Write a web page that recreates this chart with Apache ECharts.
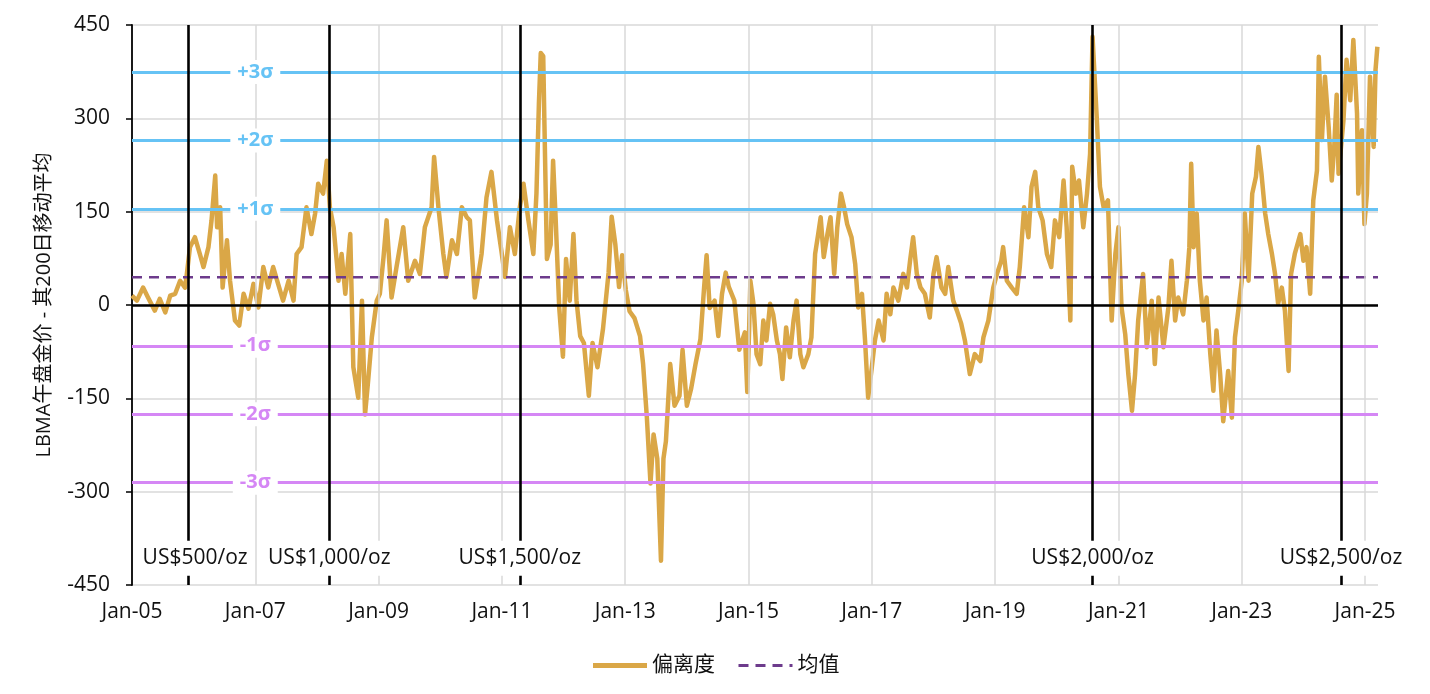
<!DOCTYPE html>
<html>
<head>
<meta charset="utf-8">
<script src="https://cdn.jsdelivr.net/npm/echarts/dist/echarts.min.js"></script>
<style>
html, body { margin: 0; padding: 0; background: #fff; }
#chart { width: 1430px; height: 694px; }
</style>
</head>
<body>
<div id="chart"></div>
<script>
var fontFamily = "'Open Sans', 'Noto Sans CJK SC', sans-serif";

// x values are decimal years (2005.50 ~ start of Jul 2005)
var years = [
    2005.00, 2005.08, 2005.18, 2005.26, 2005.37, 2005.45, 2005.54, 2005.62, 2005.70, 2005.78,
    2005.86, 2005.89, 2005.94, 2006.02, 2006.10, 2006.16, 2006.24, 2006.29, 2006.35, 2006.38,
    2006.43, 2006.47, 2006.54, 2006.59, 2006.67, 2006.74, 2006.81, 2006.89, 2006.97, 2007.05,
    2007.13, 2007.21, 2007.29, 2007.37, 2007.45, 2007.54, 2007.62, 2007.67, 2007.75, 2007.83,
    2007.91, 2007.97, 2008.02, 2008.10, 2008.16, 2008.21, 2008.27, 2008.35, 2008.40, 2008.46,
    2008.54, 2008.59, 2008.67, 2008.73, 2008.78, 2008.83, 2008.89, 2008.97, 2009.02, 2009.08,
    2009.13, 2009.21, 2009.29, 2009.40, 2009.48, 2009.59, 2009.67, 2009.75, 2009.86, 2009.90,
    2009.97, 2010.05, 2010.10, 2010.19, 2010.27, 2010.35, 2010.43, 2010.48, 2010.56, 2010.67,
    2010.75, 2010.83, 2010.92, 2010.99, 2011.05, 2011.13, 2011.21, 2011.29, 2011.35, 2011.43,
    2011.51, 2011.56, 2011.60, 2011.63, 2011.67, 2011.69, 2011.73, 2011.79, 2011.83, 2011.87,
    2011.93, 2011.99, 2012.04, 2012.10, 2012.16, 2012.21, 2012.27, 2012.33, 2012.41, 2012.47,
    2012.55, 2012.64, 2012.73, 2012.78, 2012.84, 2012.90, 2012.95, 2013.01, 2013.07, 2013.15,
    2013.24, 2013.29, 2013.35, 2013.41, 2013.46, 2013.52, 2013.58, 2013.62, 2013.66, 2013.73,
    2013.80, 2013.88, 2013.93, 2014.00, 2014.07, 2014.14, 2014.22, 2014.28, 2014.32, 2014.37,
    2014.45, 2014.51, 2014.57, 2014.63, 2014.68, 2014.77, 2014.85, 2014.94, 2014.98, 2015.01,
    2015.03, 2015.08, 2015.13, 2015.19, 2015.24, 2015.29, 2015.35, 2015.40, 2015.46, 2015.51,
    2015.55, 2015.61, 2015.67, 2015.73, 2015.78, 2015.84, 2015.89, 2015.97, 2016.02, 2016.08,
    2016.13, 2016.17, 2016.22, 2016.28, 2016.33, 2016.39, 2016.44, 2016.50, 2016.55, 2016.60,
    2016.67, 2016.73, 2016.78, 2016.84, 2016.89, 2016.94, 2017.00, 2017.05, 2017.11, 2017.19,
    2017.24, 2017.30, 2017.35, 2017.43, 2017.51, 2017.57, 2017.62, 2017.67, 2017.73, 2017.79,
    2017.86, 2017.94, 2018.00, 2018.05, 2018.13, 2018.19, 2018.24, 2018.32, 2018.38, 2018.45,
    2018.51, 2018.59, 2018.67, 2018.76, 2018.81, 2018.89, 2018.97, 2019.03, 2019.10, 2019.13,
    2019.19, 2019.27, 2019.35, 2019.40, 2019.47, 2019.54, 2019.59, 2019.65, 2019.70, 2019.77,
    2019.84, 2019.91, 2019.97, 2020.04, 2020.11, 2020.16, 2020.22, 2020.25, 2020.31, 2020.36,
    2020.43, 2020.49, 2020.54, 2020.58, 2020.65, 2020.70, 2020.76, 2020.83, 2020.89, 2020.95,
    2021.00, 2021.05, 2021.11, 2021.16, 2021.22, 2021.27, 2021.32, 2021.40, 2021.46, 2021.54,
    2021.59, 2021.65, 2021.73, 2021.81, 2021.86, 2021.92, 2021.97, 2022.05, 2022.11, 2022.15,
    2022.18, 2022.22, 2022.27, 2022.32, 2022.38, 2022.43, 2022.49, 2022.54, 2022.59, 2022.65,
    2022.70, 2022.78, 2022.84, 2022.89, 2022.95, 2023.00, 2023.05, 2023.11, 2023.17, 2023.23,
    2023.27, 2023.32, 2023.38, 2023.43, 2023.49, 2023.54, 2023.59, 2023.65, 2023.70, 2023.76,
    2023.80, 2023.86, 2023.95, 2024.00, 2024.05, 2024.11, 2024.16, 2024.22, 2024.25, 2024.30,
    2024.35, 2024.41, 2024.46, 2024.50, 2024.54, 2024.57, 2024.61, 2024.65, 2024.70, 2024.76,
    2024.81, 2024.87, 2024.89, 2024.95, 2024.99, 2025.03, 2025.08, 2025.14, 2025.17, 2025.20
];

// LBMA PM price minus its 200-day moving average (US$/oz)
var deviation = [
    15, 7, 28, 12, -9, 10, -12, 15, 18, 39,
    28, 50, 93, 109, 82, 61, 93, 136, 208, 125,
    157, 28, 104, 39, -25, -33, 18, -6, 34, -4,
    61, 28, 61, 34, 7, 39, 7, 82, 93, 157,
    114, 147, 195, 179, 232, 157, 125, 39, 82, 18,
    114, -100, -149, 7, -176, -122, -52, 7, 18, 77,
    136, 12, 61, 125, 39, 71, 50, 125, 157, 238,
    157, 82, 45, 104, 82, 157, 141, 136, 12, 82,
    173, 214, 136, 88, 45, 125, 82, 157, 195, 136,
    82, 179, 324, 405, 400, 289, 74, 97, 232, 142,
    -5, -83, 74, 7, 114, 7, -50, -61, -146, -61,
    -100, -38, 52, 142, 97, 29, 80, 24, -10, -21,
    -50, -95, -179, -287, -208, -247, -411, -247, -219, -95,
    -162, -146, -72, -162, -134, -95, -55, 29, 80, -5,
    7, -50, 18, 52, 29, 7, -72, -44, -140, -38,
    39, 2, -79, -95, -25, -57, 2, -15, -57, -79,
    -119, -36, -84, -25, 7, -79, -100, -79, -52, 82,
    114, 141, 77, 114, 141, 50, 125, 179, 157, 130,
    109, 66, -4, 18, -57, -149, -100, -57, -25, -57,
    18, -15, 28, 7, 50, 28, 71, 109, 50, 28,
    18, -20, 50, 77, 28, 18, 61, 7, -9, -30,
    -57, -111, -79, -90, -52, -25, 28, 50, 71, 93,
    39, 28, 18, 61, 157, 109, 190, 214, 157, 136,
    82, 61, 136, 109, 200, 125, -25, 222, 179, 200,
    125, 179, 243, 431, 297, 190, 157, 168, -25, 82,
    125, -4, -47, -111, -170, -111, -25, 50, -68, 7,
    -95, 12, -68, -4, 71, -25, 12, -15, 39, 93,
    227, 93, 147, 39, -25, 12, -79, -138, -41, -111,
    -187, -106, -181, -52, -4, 39, 147, 39, 179, 206,
    254, 211, 147, 114, 82, 50, 2, 28, -9, -106,
    50, 82, 114, 71, 93, 18, 168, 216, 399, 265,
    367, 286, 200, 254, 338, 211, 254, 297, 394, 329,
    426, 308, 179, 281, 130, 179, 367, 254, 378, 415
];

var meanValue = 44.5;
var sigmaNames = ['+3σ', '+2σ', '+1σ', '-1σ', '-2σ', '-3σ'];
var sigmaValues = [374.5, 264.5, 154.5, -65.5, -175.5, -285.5];

var milestoneNames = ['US$500/oz', 'US$1,000/oz', 'US$1,500/oz', 'US$2,000/oz', 'US$2,500/oz'];
var milestoneYears = [2005.91, 2008.2, 2011.29, 2020.58, 2024.61];

var gridYears = [2007, 2009, 2011, 2013, 2015, 2017, 2019, 2021, 2023, 2025];
var xStart = 2005;
var xEnd = 2025.21;

var chart = echarts.init(document.getElementById('chart'));

var blue = '#66c3f5';
var violet = '#d587f5';
var gold = '#daa747';
var purple = '#6d3b8c';

var devData = years.map(function (y, i) { return [y, deviation[i]]; });

var refLines = [{ yAxis: 0, lineStyle: { color: '#000', width: 2.5, type: 'solid' } }];
sigmaValues.forEach(function (v) {
    refLines.push({ yAxis: v, lineStyle: { color: v > 0 ? blue : violet, width: 2.8, type: 'solid' } });
});
milestoneYears.forEach(function (x) {
    refLines.push({ xAxis: x, lineStyle: { color: '#000', width: 2.6, type: 'solid' } });
});

var labelData = [];
sigmaValues.forEach(function (v, i) {
    labelData.push({
        value: [2007, v],
        name: sigmaNames[i],
        label: {
            color: v > 0 ? blue : violet, fontWeight: 'bold', fontSize: 20,
            padding: [2, 7]
        }
    });
});
milestoneYears.forEach(function (x, i) {
    labelData.push({
        value: [x, -407],
        name: milestoneNames[i],
        // the first label is nudged right so it clears the y axis
        label: { color: '#111', fontSize: 21, padding: [7, 2], offset: [i === 0 ? 7 : 0, 0] }
    });
});

option = {
    animation: false,
    textStyle: { fontFamily: fontFamily },
    grid: { left: 132, right: 52, top: 25, bottom: 109, containLabel: false, outerBoundsMode: 'none' },
    legend: {
        data: [
            { name: '偏离度', lineStyle: { width: 5 } },
            { name: '均值', lineStyle: { width: 3 } }
        ],
        top: 650,
        left: 'center',
        itemWidth: 54,
        itemHeight: 14,
        itemGap: 22,
        itemStyle: { opacity: 0, borderWidth: 0 },
        textStyle: { fontSize: 21, color: '#111', fontFamily: fontFamily }
    },
    xAxis: {
        type: 'value',
        min: xStart,
        max: xEnd,
        interval: 2,
        axisLine: { show: false, onZero: false },
        axisTick: { show: false },
        splitLine: { show: false },
        axisLabel: {
            fontSize: 21,
            color: '#111',
            margin: 17,
            fontFamily: fontFamily,
            formatter: function (v) {
                if (Math.abs(v - Math.round(v)) > 0.001) return '';
                return 'Jan-' + String(Math.round(v)).slice(2);
            }
        }
    },
    yAxis: {
        type: 'value',
        min: -450,
        max: 450,
        interval: 150,
        name: 'LBMA午盘金价 - 其200日移动平均',
        nameLocation: 'middle',
        nameGap: 78,
        nameTextStyle: { fontSize: 20, color: '#111', fontFamily: fontFamily },
        axisLine: { show: true, lineStyle: { color: '#000', width: 1.8 } },
        axisTick: { show: true, length: 6, lineStyle: { color: '#000', width: 1.5 } },
        axisLabel: { fontSize: 21, color: '#111', margin: 22, fontFamily: fontFamily },
        splitLine: { show: true, lineStyle: { color: '#d9d9d9', width: 1.5 } }
    },
    series: [
        {
            name: 'grid',
            type: 'line',
            data: [],
            z: 1,
            silent: true,
            markLine: {
                silent: true,
                symbol: ['none', 'none'],
                label: { show: false },
                lineStyle: { color: '#d9d9d9', width: 1.5, type: 'solid' },
                data: gridYears.map(function (g) { return { xAxis: g }; })
            }
        },
        {
            name: '偏离度',
            type: 'line',
            data: devData,
            symbol: 'none',
            z: 2,
            lineStyle: { color: gold, width: 4.5, join: 'round' },
            itemStyle: { color: gold }
        },
        {
            name: '均值',
            type: 'line',
            data: [[xStart, meanValue], [xEnd, meanValue]],
            symbol: 'none',
            z: 3,
            lineStyle: { color: purple, width: 2.6, type: [10, 7] },
            itemStyle: { color: purple },
            markLine: {
                silent: true,
                symbol: ['none', 'none'],
                label: { show: false },
                data: refLines
            }
        },
        {
            name: 'labels',
            type: 'scatter',
            data: labelData,
            z: 5,
            silent: true,
            symbolSize: 1,
            itemStyle: { color: '#fff', opacity: 1 },
            label: {
                show: true,
                position: 'inside',
                formatter: '{b}',
                opacity: 1,
                backgroundColor: '#fff',
                fontFamily: fontFamily
            }
        }
    ]
};

chart.setOption(option);
</script>
</body>
</html>
